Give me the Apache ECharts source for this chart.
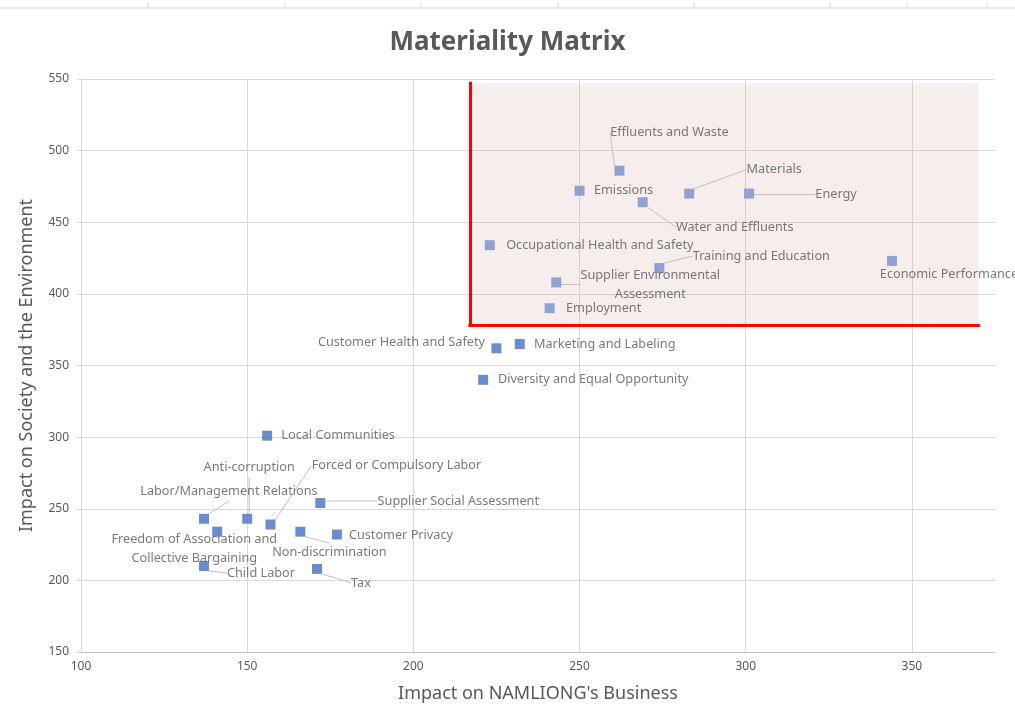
<!DOCTYPE html>
<html>
<head>
<meta charset="utf-8">
<title>Materiality Matrix</title>
<script src="https://cdn.jsdelivr.net/npm/echarts@6/dist/echarts.min.js"></script>
<style>
    html, body { margin: 0; padding: 0; background: #fff; }
    #chart { width: 1015px; height: 708px; }
</style>
</head>
<body>
<div id="chart"></div>
<script>
// topics and their scores (x: impact on business, y: impact on society)
var topics = [
    'Effluents and Waste', 'Emissions', 'Materials', 'Energy', 'Water and Effluents',
    'Occupational Health and Safety', 'Training and Education', 'Economic Performance',
    'Supplier Environmental\nAssessment', 'Employment', 'Customer Health and Safety',
    'Marketing and Labeling', 'Diversity and Equal Opportunity', 'Local Communities',
    'Supplier Social Assessment', 'Labor/Management Relations', 'Anti-corruption',
    'Forced or Compulsory Labor', 'Freedom of Association and\nCollective Bargaining',
    'Non-discrimination', 'Customer Privacy', 'Child Labor', 'Tax'
];
var businessImpact = [262, 250, 283, 301, 269, 223, 274, 344, 243, 241, 225, 232, 221, 156, 172, 137, 150, 157, 141, 166, 177, 137, 171];
var societyImpact  = [486, 472, 470, 470, 464, 434, 418, 423, 408, 390, 362, 365, 340, 301, 254, 243, 243, 239, 234, 234, 232, 210, 208];

// highlighted "material" zone
var zoneX = [217, 370];
var zoneY = [378, 547];

// axis ticks
var xTicks = [100, 375, 50];
var yTicks = [150, 550, 50];

// label placement (offset of label centre from the point) and leader lines
var labelOffsets = [
    [50, -38], [44, 0], [85, -24], [87, 1], [92, 25],
    [110, 0], [102, -12], [57, 13], [94, 2], [54, 0],
    [-95, -6], [85, 0], [110, 0], [71, 0], [138, -2],
    [25, -27], [2, -51], [126, -59], [-23, 17], [29, 21],
    [64, 1], [57, 7], [44, 14]
];
var leader = [1, 0, 1, 1, 1, 0, 1, 0, 1, 0, 0, 0, 0, 0, 1, 1, 1, 1, 0, 1, 0, 1, 1];

var textColor = '#595959';
var gridColor = '#d9d9d9';

var points = [];
for (var i = 0; i < topics.length; i++) {
    var inZone = businessImpact[i] >= zoneX[0] && societyImpact[i] >= zoneY[0];
    points.push({
        name: topics[i],
        value: [businessImpact[i], societyImpact[i]],
        itemStyle: { color: inZone ? '#7590cc' : '#4472c4' },
        labelLine: { show: leader[i] == 1 }
    });
}

// thin ruler at the very top of the screenshot
var ruler = [{ type: 'line', shape: { x1: 0, y1: 8, x2: 1015, y2: 8 }, style: { stroke: '#d9d9d9', lineWidth: 1 } }];
[148, 285, 421, 558, 694, 830, 907, 987].forEach(function (x) {
    ruler.push({ type: 'line', shape: { x1: x, y1: 3, x2: x, y2: 8 }, style: { stroke: '#d9d9d9', lineWidth: 1 } });
});

var myChart = echarts.init(document.getElementById('chart'));
var option = {
    animation: false,
    textStyle: { fontFamily: 'Noto Sans' },
    title: {
        text: 'Materiality Matrix',
        left: 'center',
        top: 25,
        textStyle: { fontSize: 26, fontWeight: 'bold', color: textColor, fontFamily: 'Noto Sans' }
    },
    graphic: ruler,
    grid: { left: 81, right: 20, top: 79, bottom: 51 },
    xAxis: {
        type: 'value',
        min: xTicks[0],
        max: xTicks[1],
        interval: xTicks[2],
        name: "Impact on NAMLIONG's Business",
        nameLocation: 'middle',
        nameGap: 33,
        nameTextStyle: { fontSize: 18, color: textColor },
        axisLine: { show: true, lineStyle: { color: '#bfbfbf' } },
        axisTick: { show: false },
        axisLabel: { color: textColor, fontSize: 12, margin: 9, showMaxLabel: false },
        splitLine: { show: true, showMaxLine: false, lineStyle: { color: gridColor } }
    },
    yAxis: {
        type: 'value',
        min: yTicks[0],
        max: yTicks[1],
        interval: yTicks[2],
        name: 'Impact on Society and the Environment',
        nameLocation: 'middle',
        nameGap: 45,
        nameTextStyle: { fontSize: 18, color: textColor },
        axisLine: { show: true, lineStyle: { color: gridColor } },
        axisTick: { show: true, length: 4, lineStyle: { color: gridColor } },
        axisLabel: { color: textColor, fontSize: 12, margin: 12 },
        splitLine: { show: true, lineStyle: { color: gridColor } }
    },
    series: [
        {
            type: 'scatter',
            symbol: 'rect',
            symbolSize: 10,
            data: points,
            z: 3,
            label: {
                show: true,
                position: 'inside',
                formatter: '{b}',
                color: textColor,
                fontSize: 12.7,
                lineHeight: 19,
                textBorderWidth: 0
            },
            labelLine: {
                lineStyle: { color: '#bfbfbf', width: 1 }
            },
            labelLayout: function (params) {
                var o = labelOffsets[params.dataIndex];
                return { dx: o[0], dy: o[1] };
            },
            markArea: {
                silent: true,
                itemStyle: { color: 'rgba(215,165,165,0.2)' },
                data: [[{ coord: [zoneX[0], zoneY[1]] }, { coord: [zoneX[1], zoneY[0]] }]]
            },
            markLine: {
                silent: true,
                symbol: 'none',
                label: { show: false },
                lineStyle: { color: '#ff0000', width: 3, type: 'solid', cap: 'square' },
                data: [
                    [{ coord: [zoneX[0], zoneY[1]] }, { coord: [zoneX[0], zoneY[0]] }],
                    [{ coord: [zoneX[0], zoneY[0]] }, { coord: [zoneX[1], zoneY[0]] }]
                ]
            }
        }
    ]
};
myChart.setOption(option);
</script>
</body>
</html>
